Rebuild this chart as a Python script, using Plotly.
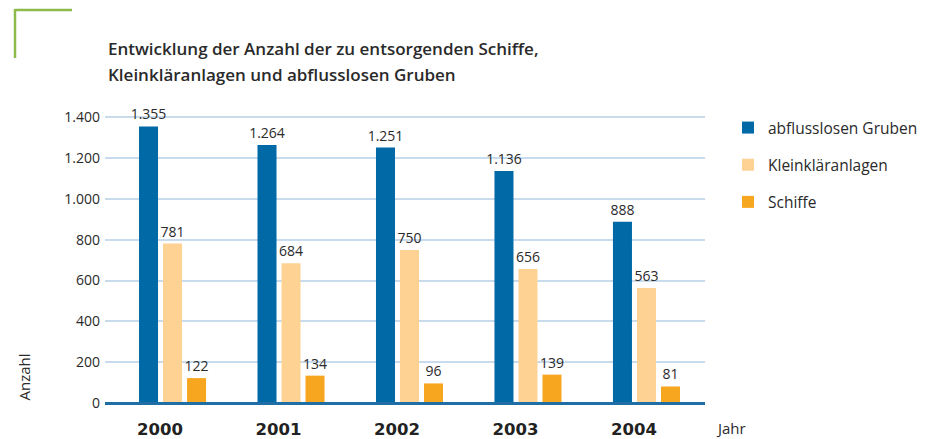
import plotly.graph_objects as go

years = ["2000", "2001", "2002", "2003", "2004"]
gruben = [1355, 1264, 1251, 1136, 888]
klein = [781, 684, 750, 656, 563]
schiffe = [122, 134, 96, 139, 81]
y_ticks = [0, 200, 400, 600, 800, 1000, 1200, 1400]
title_lines = ["Entwicklung der Anzahl der zu entsorgenden Schiffe,",
               "Kleinkläranlagen und abflusslosen Gruben"]

series = [
    ("abflusslosen Gruben", gruben, "#0069a6"),
    ("Kleinkläranlagen", klein, "#fdd293"),
    ("Schiffe", schiffe, "#f7a620"),
]

idx = list(range(len(years)))
TXT = "#2a2a2a"
FONT = "Open Sans"
PH = 296  # plot height px

fig = go.Figure()
for i, (name, vals, col) in enumerate(series):
    fig.add_trace(go.Bar(
        x=idx, y=vals, name=name, marker=dict(color=col, line=dict(width=0)),
        texttemplate="%{y:,}", textposition="outside", cliponaxis=False,
        constraintext="none",
        textfont=dict(family=FONT, size=14, color=TXT),
        legendgroup=str(i),
    ))

annotations = [
    dict(text=title_lines[0], xref="paper", yref="paper",
         x=(106 - 105) / 600, y=1 + (107 - 49) / PH, xanchor="left", yanchor="middle",
         showarrow=False, font=dict(family=FONT, size=17, weight=600, color=TXT)),
    dict(text=title_lines[1], xref="paper", yref="paper",
         x=(106 - 105) / 600, y=1 + (107 - 74) / PH, xanchor="left", yanchor="middle",
         showarrow=False, font=dict(family=FONT, size=17, weight=600, color=TXT)),
    dict(text="Anzahl", textangle=-90, xref="paper", yref="paper",
         x=(23 - 105) / 600, y=0, xanchor="center", yanchor="bottom",
         showarrow=False, font=dict(family=FONT, size=15, color=TXT)),
    dict(text="Jahr", xref="paper", yref="paper",
         x=(714 - 105) / 600, y=-25 / PH, xanchor="left", yanchor="middle",
         showarrow=False, font=dict(family=FONT, size=15, color=TXT)),
]

fig.update_layout(
    width=929, height=439,
    margin=dict(l=105, r=224, t=107, b=36, autoexpand=False),
    paper_bgcolor="white", plot_bgcolor="white",
    separators=",.",
    barmode="group", bargap=0.392, bargroupgap=0.208,
    font=dict(family=FONT, color=TXT),
    legend=dict(
        x=728/929, xref="container", xanchor="left", y=1 - 111/439, yref="container", yanchor="top",
        font=dict(family=FONT, size=15.5, color=TXT), tracegroupgap=14,
        traceorder="grouped", bgcolor="rgba(0,0,0,0)",
    ),
    xaxis=dict(
        range=[-0.57, 4.494], tickvals=[i - 0.105 for i in idx], ticktext=years,
        tickfont=dict(family="DejaVu Sans", size=16.5, weight="bold", color="#222222"),
        ticks="outside", ticklen=10, tickcolor="rgba(0,0,0,0)",
        showgrid=False, zeroline=False, showline=True, linecolor="#1f6fa6", linewidth=2,
        fixedrange=True,
    ),
    yaxis=dict(
        range=[0, 1450], tickvals=y_ticks, tickformat=",",
        tickfont=dict(family=FONT, size=14, color=TXT),
        showgrid=True, gridcolor="#c8dcee", gridwidth=1.5,
        zeroline=False, showline=False, ticks="", ticklabelstandoff=4,
    ),
    shapes=[
        dict(type="line", xref="paper", yref="paper", x0=0, x1=1, y0=0, y1=0,
             line=dict(color="#1f6fa6", width=2), layer="above"),
        dict(type="line", xref="paper", yref="paper",
             x0=(15 - 105) / 600, x1=(72 - 105) / 600,
             y0=1 + (107 - 10) / PH, y1=1 + (107 - 10) / PH,
             line=dict(color="#8cbb4c", width=2.5)),
        dict(type="line", xref="paper", yref="paper",
             x0=(15 - 105) / 600, x1=(15 - 105) / 600,
             y0=1 + (107 - 9) / PH, y1=1 + (107 - 58) / PH,
             line=dict(color="#8cbb4c", width=2.5)),
    ],
    annotations=annotations,
)

fig.write_html("out.html", config={"displayModeBar": False},
               post_script="document.body.style.margin='0';document.body.style.overflow='hidden';")
